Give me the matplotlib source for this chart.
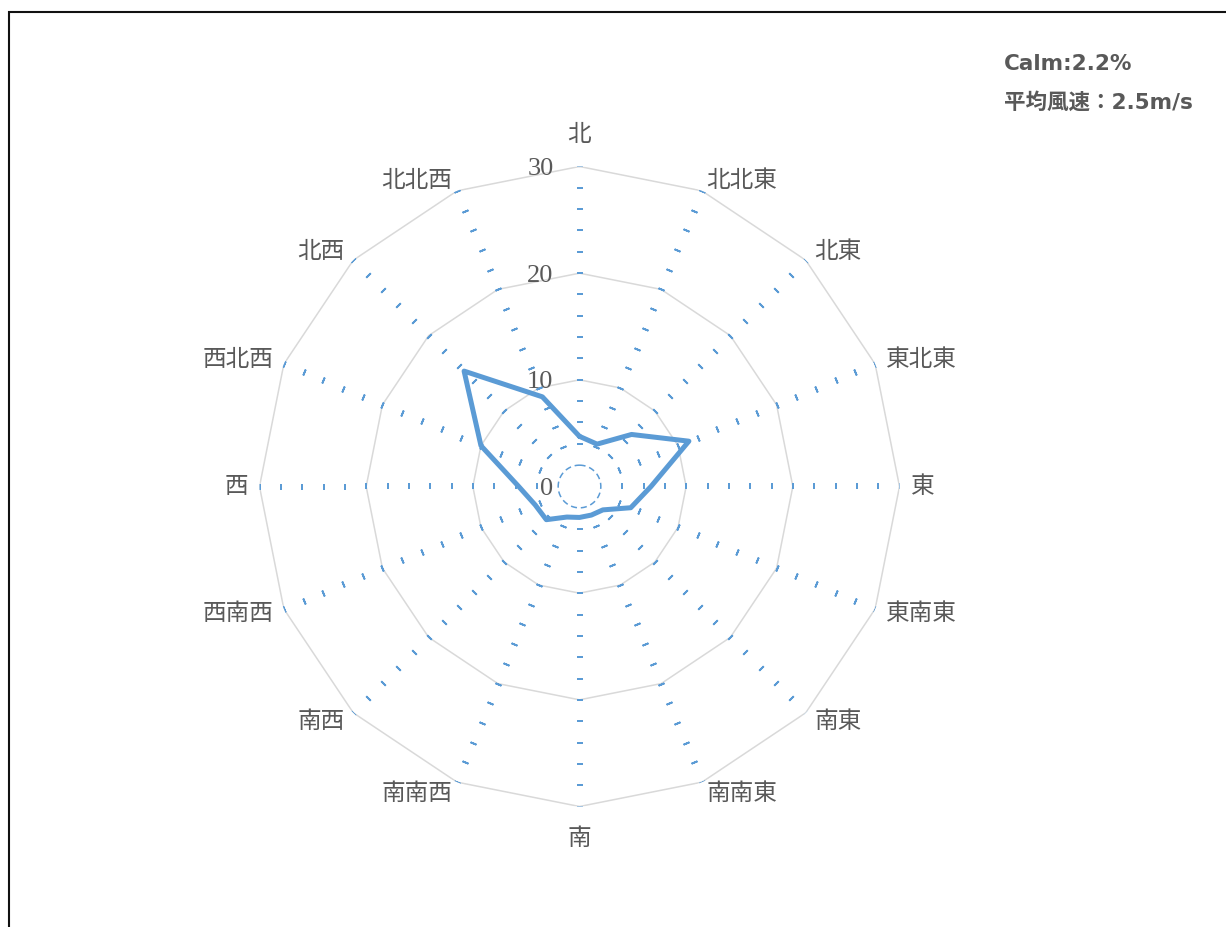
import numpy as np
import matplotlib
matplotlib.use('Agg')
import matplotlib.pyplot as plt
import matplotlib.patches as mpatches
from matplotlib.transforms import offset_copy

# 16方位（北から時計回り）
HOUEI = ['北', '北北東', '北東', '東北東', '東', '東南東', '南東', '南南東',
         '南', '南南西', '南西', '西南西', '西', '西北西', '北西', '北北西']
# 風向出現率 (%)
HINDO = [4.7, 4.3, 6.9, 11.1, 6.7, 5.2, 3.1, 2.9,
         2.9, 3.1, 4.4, 4.5, 5.7, 10.0, 15.3, 9.1]
MEMORI = [0, 10, 20, 30]
CALM_TEXT = 'Calm:2.2%'
HEIKIN_TEXT = '平均風速：2.5m/s'

AO = '#5B9BD5'
HAI = '#D9D9D9'
MOJI = '#595959'
JP_FONT = ['Noto Sans CJK JP', 'DejaVu Sans']
INFO_FONT = ['DejaVu Sans', 'Noto Sans CJK JP']
NUM_FONT = ['Liberation Serif', 'DejaVu Serif']


def kazamiki_graph(caminho='out.png'):
    fig = plt.figure(figsize=(12.26, 9.27), dpi=100)

    # 外枠（右・下ははみ出し）
    fig.patches.append(mpatches.Rectangle(
        (9 / 1226, -0.1), 1.2, 1 - 11.7 / 927 + 0.1,
        transform=fig.transFigure, fill=False, edgecolor='#111111',
        linewidth=1.5, clip_on=False))

    ax = fig.add_axes([(579.5 - 320) / 1226, (927 - 486.5 - 320) / 927,
                       640 / 1226, 640 / 927], projection='polar')
    ax.set_theta_zero_location('N')
    ax.set_theta_direction(-1)
    ax.set_ylim(0, MEMORI[-1])
    ax.grid(False)
    ax.spines['polar'].set_visible(False)
    ax.patch.set_visible(False)
    ax.set_xticks([])
    ax.set_yticks([])

    n = len(HOUEI)
    kakudo = np.arange(n) * 360.0 / n
    theta = np.deg2rad(kakudo)
    theta_c = np.append(theta, theta[0])

    # 灰色の多角形グリッド
    for v in MEMORI[1:]:
        ax.plot(theta_c, [v] * (n + 1), color=HAI, lw=1.1, zorder=1)

    # 放射軸の目盛り（青い短線）
    radii = np.arange(4, MEMORI[-1] + 1, 2)
    for phi, th in zip(kakudo, theta):
        ax.plot([th] * len(radii), radii, linestyle='none',
                marker=(2, 2, 90 - phi), markersize=4.5,
                markeredgewidth=1.3, color=AO, zorder=2)

    # 中心の点線円
    t = np.linspace(0, 2 * np.pi, 200)
    ax.plot(t, [2] * len(t), color=AO, lw=1.1, ls=(0, (4, 2.5)), zorder=2)

    # データ
    hindo_c = HINDO + HINDO[:1]
    ax.plot(theta_c, hindo_c, color=AO, lw=3.6, solid_joinstyle='round',
            solid_capstyle='round', zorder=3)

    # 方位ラベル（軸端の外側に寄せて配置）
    for label, th in zip(HOUEI, theta):
        s, c = np.sin(th), np.cos(th)
        if abs(s) < 0.1:
            r = 31.9
            ha = 'center'
            va = 'bottom' if c > 0 else 'top'
        else:
            r = 31.1
            ha = 'left' if s > 0 else 'right'
            va = 'center'
        ax.text(th, r, label, ha=ha, va=va, fontsize=17,
                color=MOJI, family=JP_FONT)

    # 目盛りラベル
    trans = offset_copy(ax.transData, fig=fig, x=-26, y=0, units='dots')
    for v in MEMORI:
        ax.text(0, v, str(v), transform=trans, ha='right',
                va='center_baseline', fontsize=19, color=MOJI,
                family=NUM_FONT)

    fig.text(1004 / 1226, 1 - 64.5 / 927, CALM_TEXT, ha='left', va='center',
             fontsize=15.5, fontweight='bold', color=MOJI, family=INFO_FONT)
    fig.text(1004 / 1226, 1 - 102 / 927, HEIKIN_TEXT, ha='left', va='center',
             fontsize=15.5, fontweight='bold', color=MOJI, family=INFO_FONT)

    plt.savefig(caminho, dpi=100)
    plt.close()
    print(f"保存しました: {caminho}")


if __name__ == "__main__":
    kazamiki_graph()
